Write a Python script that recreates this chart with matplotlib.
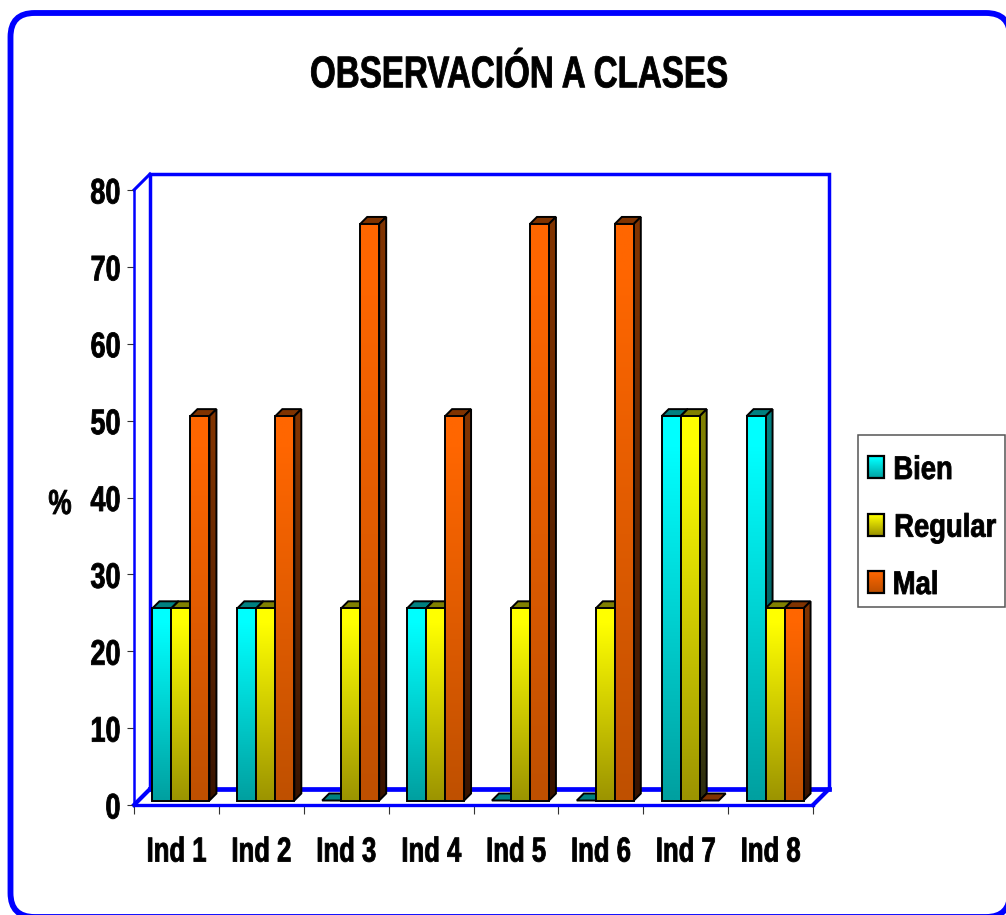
import numpy as np
import matplotlib
matplotlib.use("Agg")
import matplotlib.pyplot as plt
from matplotlib.patches import FancyBboxPatch, Polygon, Rectangle
from matplotlib.patheffects import AbstractPathEffect
from matplotlib.transforms import Affine2D
from matplotlib.colors import to_rgb

categories = ['Ind 1', 'Ind 2', 'Ind 3', 'Ind 4', 'Ind 5', 'Ind 6', 'Ind 7', 'Ind 8']
bien = [25, 25, 0, 25, 0, 0, 50, 50]
regular = [25, 25, 25, 25, 25, 25, 50, 25]
mal = [50, 50, 75, 50, 75, 75, 0, 25]
y_ticks = [0, 10, 20, 30, 40, 50, 60, 70, 80]
series_names = ['Bien', 'Regular', 'Mal']

# top colour, bottom colour of the front, side and the top face
front_cols = [('#00ffff', '#00a0a0'), ('#ffff00', '#9c9400'), ('#ff6600', '#bf5000')]
side_cols = [('#007f7f', '#004c4c'), ('#808000', '#2c2c10'), ('#803300', '#381400')]
top_cols = ['#008080', '#808000', '#803300']

BLUE = '#0000ff'
plt.rcParams['font.family'] = ['Liberation Sans', 'DejaVu Sans']
plt.rcParams['font.weight'] = 'bold'


class Narrow(AbstractPathEffect):
    # the reference font is a squeezed Arial, no narrow family is installed
    def __init__(self, sx, pivot, stroke=0.6):
        super().__init__()
        self.sx = sx
        self.pivot = pivot
        self.stroke = stroke

    def draw_path(self, renderer, gc, tpath, affine, rgbFace=None):
        ext = tpath.get_extents()
        px = ext.x0 + self.pivot * ext.width
        squeeze = Affine2D().translate(-px, 0).scale(self.sx, 1).translate(px, 0)
        gc0 = renderer.new_gc()
        gc0.copy_properties(gc)
        gc0.set_linewidth(self.stroke)
        renderer.draw_path(gc0, tpath, squeeze + affine, rgbFace)
        gc0.restore()


fig = plt.figure(figsize=(10.06, 9.15), dpi=100)

# page layer in pixels for outer frame and legend
bg = fig.add_axes([0, 0, 1, 1])
bg.set_xlim(0, 1006)
bg.set_ylim(915, 0)
bg.axis('off')
bg.add_patch(FancyBboxPatch((10.5, 13), 999.5, 904, boxstyle="round,pad=0,rounding_size=24",
                            fc='white', ec=BLUE, lw=4.2))

ax = fig.add_axes([134 / 1006, (915 - 805) / 915, (813 - 134) / 1006, (805 - 190) / 915])
ax.patch.set_alpha(0)
ax.set_xlim(0, 8)
ax.set_ylim(0, 80)
px_x = 8 / 679
px_y = 80 / 615

wall_x = 16 * px_x
wall_y = 16 * px_y
bar_w = 19 * px_x
off_x = 4.5 * px_x
off_y = 4.5 * px_y
dep_x = 7 * px_x
dep_y = 7 * px_y


def gradient(c_top, c_bot):
    t = np.clip((np.linspace(0, 1, 128) - 0.08) / 0.92, 0, 1)[:, None, None]
    return (1 - t) * np.array(to_rgb(c_top)) + t * np.array(to_rgb(c_bot))


# back wall
ax.plot([wall_x, wall_x, 8 + wall_x, 8 + wall_x], [wall_y, 80 + wall_y, 80 + wall_y, wall_y],
        color=BLUE, lw=2.5, clip_on=False, zorder=1, solid_joinstyle='miter')
ax.plot([wall_x, 8 + wall_x], [wall_y, wall_y], color=BLUE, lw=3.4, clip_on=False, zorder=1)
ax.plot([0, wall_x], [80, 80 + wall_y], color=BLUE, lw=2.2, clip_on=False, zorder=1)
ax.plot([0, wall_x], [0, wall_y], color=BLUE, lw=3, clip_on=False, zorder=1)
ax.plot([8, 8 + wall_x], [0, wall_y], color=BLUE, lw=3, clip_on=False, zorder=1)

x = np.arange(len(categories))
for s, vals in enumerate([bien, regular, mal]):
    for i, v in enumerate(vals):
        z = 5 + s * 2
        left = i + 0.5 + off_x + (s - 1.5) * bar_w
        right = left + bar_w
        base = off_y
        top = base + v

        # top face, also drawn for empty bars
        ax.add_patch(Polygon([(left, top), (right, top), (right + dep_x, top + dep_y), (left + dep_x, top + dep_y)],
                             fc=top_cols[s], ec='black', lw=1.4, zorder=z, clip_on=False))
        if v == 0:
            continue

        # side face
        side = Polygon([(right, base), (right + dep_x, base + dep_y), (right + dep_x, top + dep_y), (right, top)],
                       fc='none', ec='black', lw=1.4, zorder=z + 0.2, clip_on=False)
        ax.add_patch(side)
        im = ax.imshow(gradient(*side_cols[s]), extent=[right, right + dep_x, base, top + dep_y],
                       aspect='auto', zorder=z + 0.1, interpolation='bilinear')
        im.set_clip_path(side)

        # front face
        ax.imshow(gradient(*front_cols[s]), extent=[left, right, base, top], aspect='auto',
                  zorder=z + 0.3, interpolation='bilinear', clip_on=False)
        ax.bar(left, v, bar_w, bottom=base, align='edge', facecolor='none', edgecolor='black',
               linewidth=1.4, zorder=z + 0.4, clip_on=False)

ax.set_xlim(0, 8)
ax.set_ylim(0, 80)

for name in ['top', 'right']:
    ax.spines[name].set_visible(False)
ax.spines['left'].set_color(BLUE)
ax.spines['left'].set_linewidth(1.8)
ax.spines['bottom'].set_color(BLUE)
ax.spines['bottom'].set_linewidth(2.4)
ax.spines['left'].set_zorder(3)
ax.spines['bottom'].set_zorder(3)

ax.set_xticks(np.arange(0, 9))
ax.set_xticklabels([])
ax.set_xticks(x + 0.5, minor=True)
ax.set_xticklabels(categories, minor=True, fontsize=25, fontweight='bold')
ax.set_yticks(y_ticks)
ax.set_yticklabels(y_ticks, fontsize=25.6, fontweight='bold')
ax.tick_params(axis='x', which='major', length=6.5, width=0.8, color='#333333')
ax.tick_params(axis='x', which='minor', length=0, pad=22)
ax.tick_params(axis='y', length=5, width=0.8, color='#333333', pad=4.5)
for lab in ax.get_xticklabels(minor=True):
    lab.set_path_effects([Narrow(0.74, 0.5)])
for lab in ax.get_yticklabels():
    lab.set_path_effects([Narrow(0.76, 1)])

fig.text(519.5 / 1006, 1 - 87.3 / 915, 'OBSERVACIÓN A CLASES', ha='center', va='baseline', fontsize=32,
         fontweight='bold', path_effects=[Narrow(0.746, 0.5)])
fig.text(60 / 1006, 1 - 514 / 915, '%', ha='center', va='baseline', fontsize=25, fontweight='bold',
         path_effects=[Narrow(0.75, 0.5)])

# legend box
bg.add_patch(Rectangle((858, 434.5), 147.5, 172, fc='white', ec='#555555', lw=1.1, zorder=2))
swatch_tops = [456, 513.5, 570.5]
text_centers = [923, 945, 915.5]
text_bases = [479, 536.7, 594]
for s, name in enumerate(series_names):
    y0 = swatch_tops[s]
    bg.imshow(gradient(*front_cols[s]), extent=[868, 884, y0 + 22, y0], aspect='auto', zorder=3,
              interpolation='bilinear')
    bg.add_patch(Rectangle((868, y0), 16, 22, fc='none', ec='black', lw=1.6, zorder=4))
    bg.text(text_centers[s], text_bases[s], name, ha='center', va='baseline', fontsize=23.5, fontweight='bold',
            zorder=4, path_effects=[Narrow(0.84, 0.5)])
bg.set_xlim(0, 1006)
bg.set_ylim(915, 0)

fig.savefig('out.png', dpi=100)
